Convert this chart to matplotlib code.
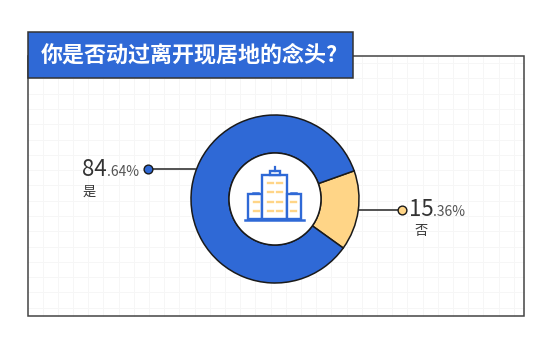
# Donut chart - moving intention survey

import matplotlib
matplotlib.use('Agg')
import matplotlib.pyplot as plt
from matplotlib.patches import Rectangle, Circle
import numpy as np

plt.rcParams['font.family'] = ['Noto Sans CJK SC', 'DejaVu Sans']

title = '你是否动过离开现居地的念头?'
labels = ['否', '是']
values = [15.36, 84.64]
colors = ['#FFD587', '#2F69D6']

W, H = 554, 346
BLUE = '#2F69D6'
YEL = '#FFD587'
DARK = '#333333'


def fy(y):
    # pixel y from the top to axes y
    return H - y


fig = plt.figure(figsize=(W/100, H/100), dpi=100)
ax = fig.add_axes([0, 0, 1, 1])
ax.set_xlim(0, W)
ax.set_ylim(0, H)

# Frame and background grid
for x in np.arange(42.5, 524, 15.2):
    ax.plot([x, x], [fy(57), fy(316)], color='#F6F6F6', lw=0.7, zorder=1)
for y in np.arange(63, 316, 15.3):
    ax.plot([28, 524], [fy(y), fy(y)], color='#F6F6F6', lw=0.7, zorder=1)
ax.add_patch(Rectangle((28, fy(316)), 496, 260, fill=False, ec='#444444', lw=1.1, zorder=2))

# Title box
ax.add_patch(Rectangle((28, fy(78)), 325, 46, fc=BLUE, ec=DARK, lw=1.1, zorder=3))
ax.text(41, fy(55), title, color='white', fontsize=15.85, fontweight='bold',
        ha='left', va='center', zorder=4)

# Donut
cx, cy, r_out, r_in = 275, fy(199), 84, 46
ax.pie(values, colors=colors, startangle=19.6, counterclock=False, center=(cx, cy),
       radius=r_out, frame=True,
       wedgeprops=dict(width=r_out-r_in, edgecolor='#1A1A1A', linewidth=1.1, zorder=5))
ax.set_xlim(0, W)
ax.set_ylim(0, H)
ax.set_aspect('auto')
ax.axis('off')
ax.add_patch(Circle((cx, cy), r_in, fc='white', ec='#1A1A1A', lw=1.1, zorder=6))

# Leader lines and dots
ax.plot([148, 195], [fy(169), fy(169)], color='#444444', lw=1.3, zorder=4)
ax.plot([358, 402], [fy(209.5), fy(209.5)], color='#444444', lw=1.3, zorder=4)
ax.plot(147.5, fy(169), 'o', ms=6.3, mfc=BLUE, mec='#1A1A1A', mew=1, zorder=7)
ax.plot(402, fy(209.5), 'o', ms=6.3, mfc=YEL, mec='#1A1A1A', mew=1, zorder=7)

# Value labels
ax.text(82, fy(176), '84', color='#333333', fontsize=16, fontweight='light', ha='left', va='baseline', zorder=7)
ax.text(107, fy(176), '.64%', color='#555555', fontsize=10, fontweight='light', ha='left', va='baseline', zorder=7)
ax.text(83, fy(192), labels[1], color='#333333', fontsize=9.5, ha='left', va='center', zorder=7)
ax.text(409, fy(216), '15', color='#333333', fontsize=16, fontweight='light', ha='left', va='baseline', zorder=7)
ax.text(433, fy(216), '.36%', color='#555555', fontsize=10, fontweight='light', ha='left', va='baseline', zorder=7)
ax.text(415, fy(231.5), labels[0], color='#333333', fontsize=9.5, ha='left', va='center', zorder=7)

# Building icon
for x0, y0, x1, y1 in [(248, 194, 262, 219), (262, 175, 287, 219), (287, 194, 301, 219), (270, 171, 280, 175)]:
    ax.add_patch(Rectangle((x0, fy(y1)), x1-x0, y1-y0, fc='white', ec=BLUE, lw=1.7, zorder=7))
ax.plot([245, 304], [fy(220), fy(220)], color=BLUE, lw=1.8, zorder=8)
ax.plot([275, 275], [fy(166.5), fy(171)], color=BLUE, lw=1.6, zorder=8)
ax.plot([253, 258], [fy(192.5), fy(192.5)], color=BLUE, lw=1.8, zorder=8)
ax.plot([291, 296], [fy(192.5), fy(192.5)], color=BLUE, lw=1.8, zorder=8)
for y in [183, 192, 202, 211]:
    for x in [270, 279]:
        ax.plot([x-2.5, x+2.5], [fy(y), fy(y)], color=YEL, lw=1.7, zorder=8)
for y in [202, 211]:
    for x in [256, 293]:
        ax.plot([x-2.5, x+2.5], [fy(y), fy(y)], color=YEL, lw=1.7, zorder=8)

fig.savefig('out.png', dpi=100, facecolor='white')
